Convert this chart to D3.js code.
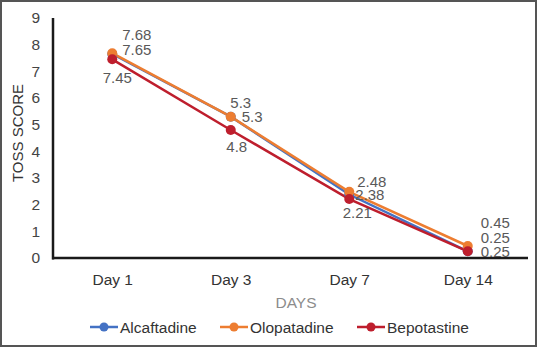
<!DOCTYPE html>
<html><head><meta charset="utf-8">
<script src="https://cdn.jsdelivr.net/npm/d3@7"></script>
<style>body{margin:0;background:#fff}svg{display:block;font-family:"Liberation Sans",Arial,sans-serif}</style>
</head><body><svg id="c" width="538" height="348"></svg>
<script>
const categories = ["Day 1", "Day 3", "Day 7", "Day 14"];
const alcaftadine = [7.65, 5.3, 2.38, 0.25];
const olopatadine = [7.68, 5.3, 2.48, 0.45];
const bepotastine = [7.45, 4.8, 2.21, 0.25];
const yTicks = [0,1,2,3,4,5,6,7,8,9];
const seriesNames = ["Alcaftadine", "Olopatadine", "Bepotastine"];
const colors = ["#4472C4", "#ED7D31", "#BE1E2D"];

const series = [alcaftadine, olopatadine, bepotastine].map((v,i)=>({name:seriesNames[i], values:v, color:colors[i]}));
const svg = d3.select("#c");
svg.append("rect").attr("x",1).attr("y",1).attr("width",535).attr("height",345)
  .attr("fill","#fff").attr("stroke","#555").attr("stroke-width",2);

const x = d3.scalePoint().domain(categories).range([53,527]).padding(0.5);
const y = d3.scaleLinear().domain([0,9]).range([258,18]);
const FF = "Liberation Sans, Arial, sans-serif";

// y tick labels
const ya = svg.append("g").attr("transform","translate(53,0)")
  .call(d3.axisLeft(y).tickValues(yTicks).tickSize(0).tickPadding(13));
ya.select(".domain").remove();
ya.selectAll("text").attr("font-size",15.5).attr("fill","#444").attr("font-family",FF);
svg.append("line").attr("x1",53).attr("x2",53).attr("y1",18).attr("y2",259.5).attr("stroke","#1a1a1a").attr("stroke-width",2.5);

// x axis
const xa = svg.append("g").attr("transform","translate(0,258)")
  .call(d3.axisBottom(x).tickSize(0).tickPadding(16));
xa.select(".domain").remove();
xa.selectAll("text").attr("font-size",15.5).attr("fill","#333").attr("font-family",FF);
svg.append("line").attr("x1",52).attr("x2",528).attr("y1",258).attr("y2",258).attr("stroke","#1a1a1a").attr("stroke-width",2.5);

// titles
svg.append("text").attr("transform","translate(23,133) rotate(-90)").attr("text-anchor","middle")
  .attr("font-size",15).attr("fill","#333").text("TOSS SCORE");
svg.append("text").attr("x",296).attr("y",308).attr("text-anchor","middle")
  .attr("font-size",15.5).attr("fill","#8c8c8c").text("DAYS");

const line = d3.line().x((d,i)=>x(categories[i])).y(d=>y(d));
series.forEach(s=>{
  svg.append("path").attr("d",line(s.values)).attr("fill","none").attr("stroke",s.color).attr("stroke-width",2.5);
});
series.forEach(s=>{
  svg.selectAll(null).data(s.values).enter().append("circle")
    .attr("cx",(d,i)=>x(categories[i])).attr("cy",d=>y(d)).attr("r",5).attr("fill",s.color);
});

// data labels
const lab = (txt, cx, cy, anchor="start") => svg.append("text").attr("x",cx).attr("y",cy)
  .attr("text-anchor",anchor).attr("font-size",15).attr("fill","#595959").text(txt);
// Day 1
lab(olopatadine[0].toFixed(2), x(categories[0])+10, y(olopatadine[0])-13);
lab(alcaftadine[0].toFixed(2), x(categories[0])+10, y(alcaftadine[0])+1);
lab(bepotastine[0].toFixed(2), x(categories[0])+5, y(bepotastine[0])+24, "middle");
// Day 3
lab(String(olopatadine[1]), x(categories[1])+10, y(olopatadine[1])-9, "middle");
lab(String(alcaftadine[1]), x(categories[1])+11, y(alcaftadine[1])+5);
lab(String(bepotastine[1]), x(categories[1])+6, y(bepotastine[1])+22, "middle");
// Day 7
lab(olopatadine[2].toFixed(2), x(categories[2])+8, y(olopatadine[2])-5);
lab(alcaftadine[2].toFixed(2), x(categories[2])+6, y(alcaftadine[2])+5);
lab(bepotastine[2].toFixed(2), x(categories[2])+8, y(bepotastine[2])+19, "middle");
// Day 14
lab(olopatadine[3].toFixed(2), x(categories[3])+13, y(olopatadine[3])-18);
lab(alcaftadine[3].toFixed(2), x(categories[3])+13, y(alcaftadine[3])-8);
lab(bepotastine[3].toFixed(2), x(categories[3])+13, y(bepotastine[3])+6);

// legend
const legX = [90, 220, 357];
series.forEach((s,i)=>{
  const g = svg.append("g").attr("transform",`translate(${legX[i]},327)`);
  g.append("line").attr("x1",0).attr("x2",28).attr("stroke",s.color).attr("stroke-width",2.5);
  g.append("circle").attr("cx",14).attr("r",4.5).attr("fill",s.color);
  g.append("text").attr("x",30).attr("y",5.5).attr("font-size",15.5).attr("fill","#333").text(s.name);
});
</script></body></html>
